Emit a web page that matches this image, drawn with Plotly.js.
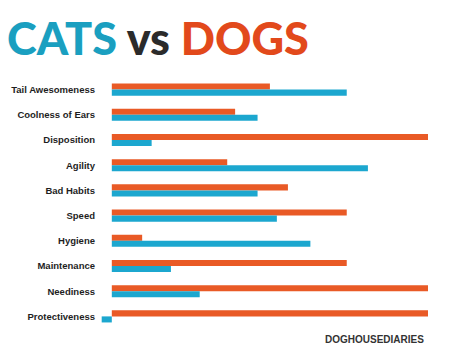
<!DOCTYPE html>
<html>
<head>
<meta charset="utf-8">
<script src="https://cdn.plot.ly/plotly-3.0.1.min.js"></script>
<style>html,body{margin:0;padding:0;background:#fff;}#chart{width:459px;height:357px;}</style>
</head>
<body>
<div id="chart"></div>
<script>
const categories = ["Tail Awesomeness","Coolness of Ears","Disposition","Agility","Bad Habits","Speed","Hygiene","Maintenance","Neediness","Protectiveness"];
const dogs = [5.0, 3.9, 10, 3.65, 5.57, 7.43, 0.96, 7.43, 10, 10];
const cats = [7.43, 4.61, 1.26, 8.1, 4.61, 5.22, 6.28, 1.87, 2.78, -0.32];

const orange = "#e95a26";
const blue = "#1ca7cf";

const traces = [
  {type:"bar", orientation:"h", name:"Dogs", y:categories, x:dogs, marker:{color:orange}, hoverinfo:"x+y"},
  {type:"bar", orientation:"h", name:"Cats", y:categories, x:cats, marker:{color:blue}, hoverinfo:"x+y"}
];

const layout = {
  width:459, height:357,
  paper_bgcolor:"#ffffff", plot_bgcolor:"#ffffff",
  margin:{l:96, r:31, t:77, b:28},
  showlegend:false,
  barmode:"group", bargap:0.52, bargroupgap:0,
  title:{
    text:'<span style="color:#1a9fc0">CATS</span> <span style="color:#2b2b2b">vs</span> <span style="color:#e2491b">DOGS</span>',
    font:{family:"Lato, 'Open Sans', sans-serif", size:45, weight:900, color:"#2b2b2b"},
    x:7/459, xanchor:"left", xref:"container",
    y:1-39/357, yanchor:"middle", yref:"container"
  },
  xaxis:{range:[-0.5,10], showgrid:false, zeroline:false, showticklabels:false, showline:false, fixedrange:true},
  yaxis:{autorange:"reversed", showgrid:false, zeroline:false, showline:false, ticks:"",
         tickfont:{family:"'Liberation Sans', Arial, sans-serif", size:9.5, weight:700, color:"#1e1e1e"}, ticklabelstandoff:0},
  annotations:[{
    text:"DOGHOUSEDIARIES", xref:"paper", yref:"paper", x:0.994, y:-0.04,
    xanchor:"right", yanchor:"middle", showarrow:false,
    font:{family:"'Liberation Sans', Arial, sans-serif", size:10, weight:700, color:"#333333"}
  }]
};

Plotly.newPlot("chart", traces, layout, {displayModeBar:false, staticPlot:true});
</script>
</body>
</html>
